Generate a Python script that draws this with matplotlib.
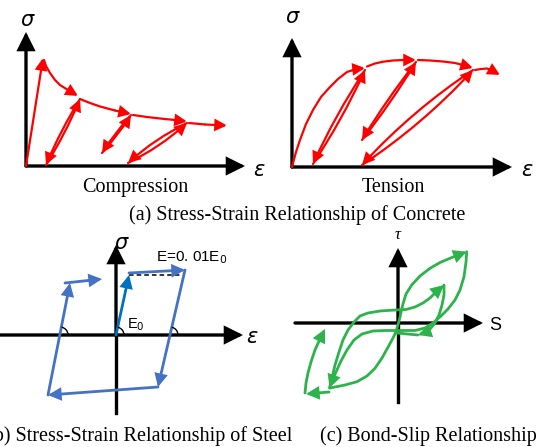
import matplotlib
matplotlib.use("Agg")
import matplotlib.pyplot as plt
from matplotlib.patches import FancyArrowPatch, Arc

# ---------------- data (pixel coordinates of the schematic) ----------------
# (a) concrete, compression
comp_origin = (26, 166)
comp_ytip = (26, 32)
comp_xtip = (245, 166)
comp_rise = [(26, 166), (43, 58)]
comp_env1 = [(44, 60), (46, 66), (50, 73), (55, 80), (60, 85), (68, 90), (78, 96)]
comp_env2 = [(80, 99), (90, 103), (100, 106.5), (115, 110.5), (131, 114)]
comp_env3 = [(133, 115), (147, 117), (160, 118.5), (175, 120), (187, 121.5)]
comp_env4 = [(189, 123), (205, 124.5), (227, 125.5)]
comp_loops = [((80, 99), (46, 165), 0.04), ((131, 115), (102, 153), 0.04), ((187, 123), (128, 163), 0.07)]

# (a) concrete, tension
ten_origin = (292, 167)
ten_ytip = (292, 38)
ten_xtip = (512, 167)
ten_env1 = [(292, 167), (296, 152), (300, 140), (306, 124), (313, 110), (321, 97), (330, 87),
            (338, 79), (347, 72), (356, 69), (365, 68)]
ten_env2 = [(367, 66.5), (375, 63.5), (383, 61.7), (393, 60.5), (403, 60), (416, 60)]
ten_env3 = [(418, 60), (430, 60.5), (443, 61.5), (455, 63), (463, 65), (473, 68)]
ten_env4 = [(475, 70), (481, 69), (487, 68.5), (493, 71), (500, 75)]
ten_loops = [((365, 70), (313, 164), 0.04), ((416, 62), (362, 140), 0.03), ((473, 70), (362, 165), 0.06)]

# (b) steel
st_origin = (116, 335)
st_ytip = (116, 245)
st_ybot = (116, 413)
st_xleft = (0, 335)
st_xtip = (243, 335)
st_e0 = [(116, 335), (129, 275)]
st_dash = [(129, 275), (180, 275)]
st_segments = [[(129, 273), (185, 270)], [(185, 270), (158, 387)], [(158, 387), (48, 395)],
               [(48, 395), (70, 283)], [(65, 283), (102, 279)]]
st_arcs = [((60, 335), -79), ((170, 335), -77), ((116, 335), -78)]

# (c) bond-slip
bs_origin = (398, 323)
bs_ytip = (398, 248)
bs_ybot = (398, 402)
bs_xleft = (295, 323)
bs_xtip = (483, 323)
bs_skel = [(330, 388), (345, 385), (357, 381.7), (367, 376), (375, 368.3), (382, 358), (388.3, 346.7),
           (393, 338), (396, 331.7), (399.3, 320), (402.7, 305), (406, 294), (411.7, 285), (420, 276),
           (430, 268.3), (440, 262.5), (450, 258.3), (458, 255), (466.7, 251.7)]
bs_outer = [(466.7, 251.7), (466, 262), (464, 276.7), (460, 290), (455, 300), (448, 309), (441, 316),
            (433, 323), (425, 328), (415, 330.5), (400, 330.5), (385, 330.5), (373, 331), (362, 334),
            (354, 340), (347, 350), (341, 361), (336, 372), (332, 381), (329.5, 388)]
bs_inner = [(329.5, 388), (332, 378), (335, 365), (339, 352), (343, 340), (348, 330), (354, 322),
            (360, 316), (368, 313), (380, 311), (395, 310), (406, 309.5), (415, 307), (423, 303),
            (430, 298), (437, 291), (444, 285)]
bs_inner_down = [(444, 285), (444, 295), (442, 305), (439, 315), (435, 323), (430, 329), (424, 333), (418, 335)]
bs_tail = [(418, 335), (397, 333)]
bs_far1 = [(329, 392), (306, 394)]
bs_far2 = [(305, 393), (306, 383), (308, 373), (311, 362), (315, 350), (320, 339), (325, 329)]

RED = "#FF0000"
BLUE = "#4472C4"
BLUE2 = "#0070C0"
GREEN = "#2DB34B"

fig = plt.figure(figsize=(5.42, 4.47), dpi=100)
ax = fig.add_axes([0, 0, 1, 1])
ax.set_xlim(0, 542)
ax.set_ylim(447, 0)
ax.axis("off")

HEAD = "-|>,head_length=0.6,head_width=0.3"


def arrow(p0, p1, color, lw=1.6, rad=0.0, ms=11, style=HEAD, z=3):
    a = FancyArrowPatch(p0, p1, arrowstyle=style, connectionstyle=f"arc3,rad={rad}",
                        mutation_scale=ms, lw=lw, color=color, shrinkA=0, shrinkB=0, zorder=z,
                        joinstyle="miter")
    ax.add_patch(a)


def curve(pts, color, lw=1.6, head=True):
    xs = [p[0] for p in pts]
    ys = [p[1] for p in pts]
    if head:
        ax.plot(xs[:-1], ys[:-1], color=color, lw=lw, solid_capstyle="round", zorder=3)
        arrow(pts[-2], pts[-1], color, lw)
    else:
        ax.plot(xs, ys, color=color, lw=lw, solid_capstyle="round", zorder=3)


def axis_arrow(p0, p1):
    arrow(p0, p1, "black", lw=2.4, ms=10, style="-|>,head_length=1.0,head_width=0.5", z=2)


# ---------------- (a) compression ----------------
axis_arrow(comp_origin, comp_ytip)
axis_arrow(comp_origin, comp_xtip)
for seg in (comp_rise, comp_env1, comp_env2, comp_env3, comp_env4):
    curve(seg, RED)
for top, bot, r in comp_loops:
    arrow(top, bot, RED, rad=r)
    arrow(bot, top, RED, rad=r)
ax.text(27, 20, "σ", fontsize=15, style="italic", ha="center", va="center", family="DejaVu Sans")
ax.text(259, 170, "ε", fontsize=15, style="italic", ha="center", va="center", family="DejaVu Sans")
ax.text(135.5, 191.7, "Compression", fontsize=14.5, family="Liberation Serif", ha="center", va="baseline")

# ---------------- (a) tension ----------------
axis_arrow(ten_origin, ten_ytip)
axis_arrow(ten_origin, ten_xtip)
for seg in (ten_env1, ten_env2, ten_env3, ten_env4):
    curve(seg, RED)
for top, bot, r in ten_loops:
    arrow(top, bot, RED, rad=r)
    arrow(bot, top, RED, rad=r)
ax.text(292, 17, "σ", fontsize=15, style="italic", ha="center", va="center", family="DejaVu Sans")
ax.text(527, 170, "ε", fontsize=15, style="italic", ha="center", va="center", family="DejaVu Sans")
ax.text(393, 191.7, "Tension", fontsize=14.5, family="Liberation Serif", ha="center", va="baseline")

ax.text(297, 220, "(a) Stress-Strain Relationship of Concrete", fontsize=14.5,
        family="Liberation Serif", ha="center", va="baseline")

# ---------------- (b) steel ----------------
axis_arrow(st_origin, st_ytip)
ax.plot([st_origin[0], st_ybot[0]], [st_origin[1], st_ybot[1]], color="black", lw=2.4, zorder=2)
axis_arrow(st_xleft, st_xtip)
curve(st_e0, BLUE2, lw=2.0)
ax.plot([p[0] for p in st_dash], [p[1] for p in st_dash], color="black", lw=1.1, ls=(0, (3, 2)), zorder=3)
for seg in st_segments:
    curve(seg, BLUE, lw=2.0)
for c, ang in st_arcs:
    ax.add_patch(Arc(c, 16, 16, theta1=ang, theta2=0, color="black", lw=1.0, zorder=4))
ax.text(121, 243, "σ", fontsize=15, style="italic", ha="center", va="center", family="DejaVu Sans")
ax.text(252, 337, "ε", fontsize=15, style="italic", ha="center", va="center", family="DejaVu Sans")
ax.text(156, 261.5, "E=0. 01E$_0$", fontsize=11, family="Liberation Sans", ha="left", va="baseline")
ax.text(127, 328, "E$_0$", fontsize=10.5, family="Liberation Sans", ha="left", va="baseline")
ax.text(292, 441, "(b) Stress-Strain Relationship of Steel", fontsize=14.5,
        family="Liberation Serif", ha="right", va="baseline")

# ---------------- (c) bond-slip ----------------
axis_arrow(bs_origin, bs_ytip)
ax.plot([bs_origin[0], bs_ybot[0]], [bs_origin[1], bs_ybot[1]], color="black", lw=2.4, zorder=2)
axis_arrow(bs_xleft, bs_xtip)
curve(bs_skel, GREEN, lw=2.0)
curve(bs_outer, GREEN, lw=2.0)
curve(bs_inner, GREEN, lw=2.0)
curve(bs_inner_down, GREEN, lw=2.0)
curve(bs_tail, GREEN, lw=2.0, head=False)
curve(bs_far1, GREEN, lw=2.0)
curve(bs_far2, GREEN, lw=2.0)
ax.text(398, 235, "τ", fontsize=12, style="italic", ha="center", va="center", family="Liberation Serif")
ax.text(495, 325, "S", fontsize=13, ha="center", va="center", family="Liberation Sans")
ax.text(320, 441, "(c) Bond-Slip Relationship", fontsize=14.5,
        family="Liberation Serif", ha="left", va="baseline")

fig.savefig("out.png", dpi=100)
